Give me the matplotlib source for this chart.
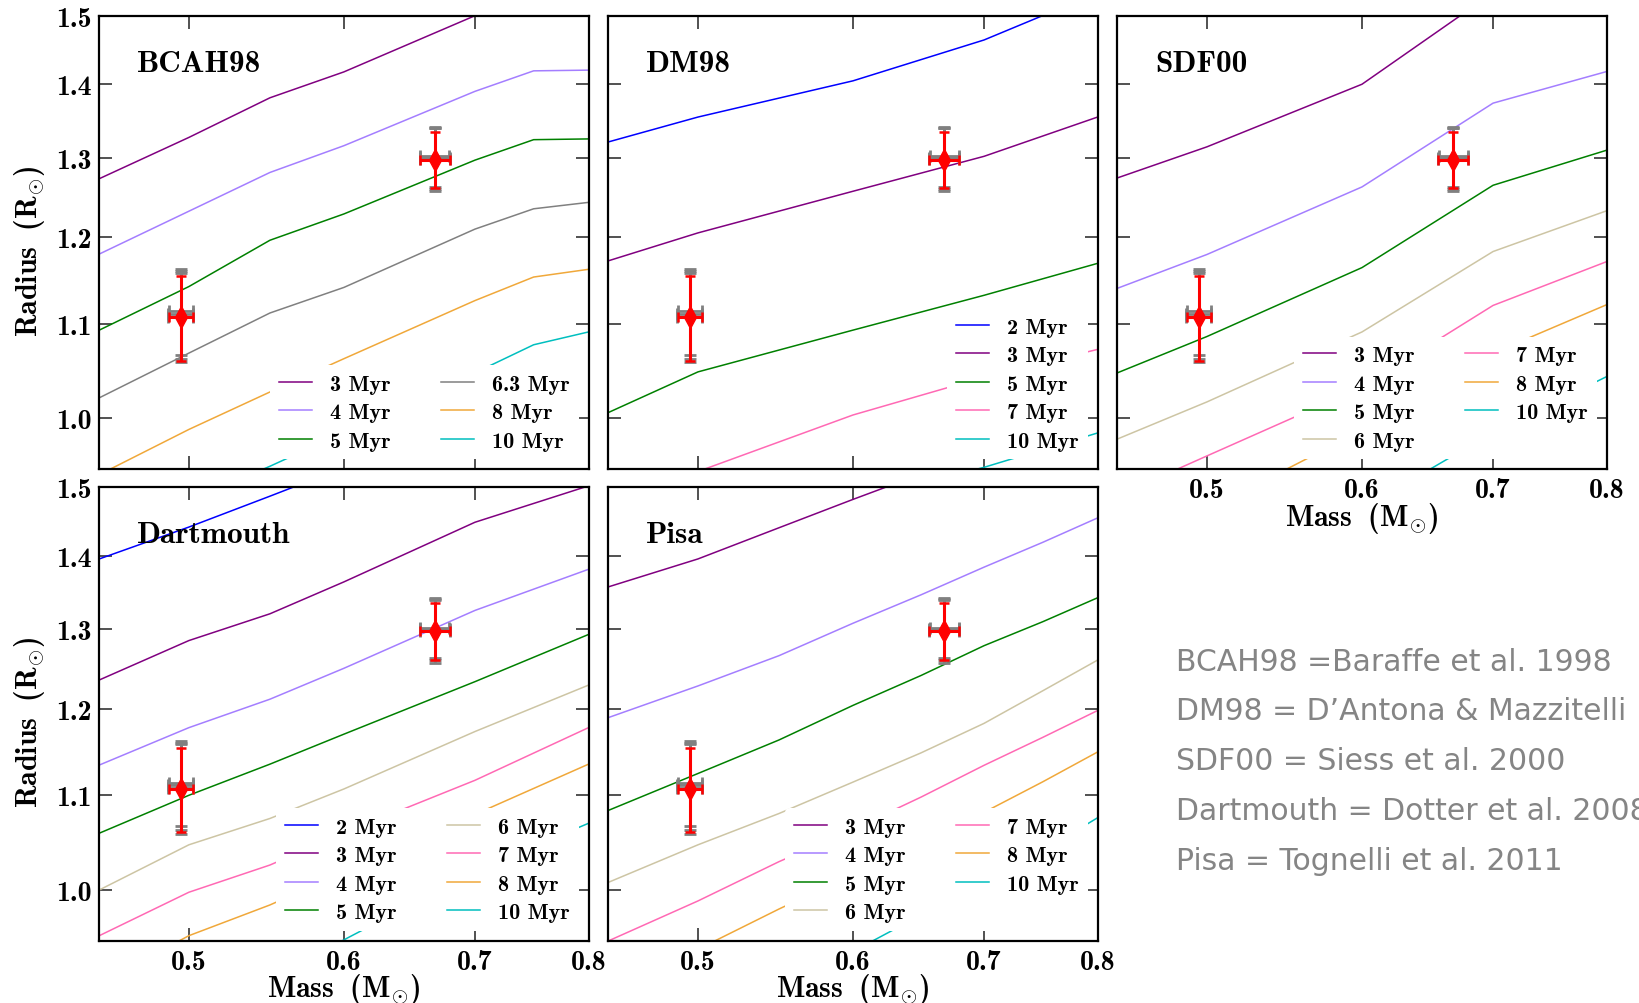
import matplotlib
matplotlib.use('Agg')
import matplotlib.pyplot as plt
from matplotlib.ticker import FixedLocator, FixedFormatter, NullLocator

plt.rcParams['font.family'] = ['cmb10', 'DejaVu Sans']
plt.rcParams['mathtext.fontset'] = 'custom'
plt.rcParams['mathtext.rm'] = 'cmb10'
plt.rcParams['mathtext.bf'] = 'cmb10'
plt.rcParams['mathtext.it'] = 'cmb10'
plt.rcParams['mathtext.default'] = 'rm'
plt.rcParams['axes.unicode_minus'] = False

# ---------------- data ----------------
x_ticks = [0.5, 0.6, 0.7, 0.8]
x_tick_labels = ['0.5', '0.6', '0.7', '0.8']
y_ticks = [1.0, 1.1, 1.2, 1.3, 1.4, 1.5]
y_tick_labels = ['1.0', '1.1', '1.2', '1.3', '1.4', '1.5']

bcah98_mass = [0.45, 0.5, 0.55, 0.6, 0.7, 0.75, 0.8]
bcah98_ages = ['3', '4', '5', '6.3', '8', '10']
bcah98_radius = [
    [1.273, 1.327, 1.381, 1.4175, 1.500, 1.545, 1.585],
    [1.180, 1.232, 1.281, 1.316, 1.390, 1.419, 1.420],
    [1.093, 1.142, 1.1965, 1.2286, 1.297, 1.324, 1.325],
    [1.021, 1.068, 1.112, 1.141, 1.210, 1.235, 1.243],
    [0.945, 0.989, 1.027, 1.062, 1.126, 1.153, 1.162],
    [0.890, 0.920, 0.953, 0.986, 1.047, 1.077, 1.091],
]

dm98_mass = [0.45, 0.5, 0.6, 0.7, 0.8]
dm98_ages = ['2', '3', '5', '7', '10']
dm98_radius = [
    [1.321, 1.3545, 1.4048, 1.4638, 1.535],
    [1.172, 1.2054, 1.257, 1.302, 1.3545],
    [1.006, 1.048, 1.093, 1.132, 1.169],
    [0.920, 0.948, 1.0035, 1.0425, 1.072],
    [0.860, 0.880, 0.920, 0.952, 0.9855],
]

sdf00_mass = [0.45, 0.5, 0.6, 0.7, 0.8]
sdf00_ages = ['3', '4', '5', '6', '7', '8', '10']
sdf00_radius = [
    [1.274, 1.3145, 1.400, 1.535, 1.600],
    [1.140, 1.1795, 1.2625, 1.3736, 1.418],
    [1.047, 1.086, 1.164, 1.2646, 1.310],
    [0.9795, 1.0168, 1.091, 1.183, 1.2325],
    [0.925, 0.963, 1.032, 1.1205, 1.171],
    [0.880, 0.912, 0.988, 1.068, 1.1213],
    [0.840, 0.870, 0.913, 0.986, 1.043],
]

dartmouth_mass = [0.45, 0.5, 0.55, 0.6, 0.7, 0.8]
dartmouth_ages = ['2', '3', '4', '5', '6', '7', '8', '10']
dartmouth_radius = [
    [1.3955, 1.441, 1.4865, 1.530, 1.610, 1.690],
    [1.2354, 1.2854, 1.3205, 1.3636, 1.448, 1.502],
    [1.134, 1.1775, 1.2117, 1.250, 1.325, 1.381],
    [1.0588, 1.100, 1.135, 1.1698, 1.2333, 1.2933],
    [1.000, 1.0465, 1.0746, 1.107, 1.1729, 1.229],
    [0.955, 0.9977, 1.0254, 1.059, 1.1167, 1.1775],
    [0.910, 0.955, 0.985, 1.018, 1.079, 1.135],
    [0.840, 0.880, 0.915, 0.951, 1.019, 1.0694],
]

pisa_mass = [0.45, 0.5, 0.55, 0.6, 0.65, 0.7, 0.75, 0.8]
pisa_ages = ['3', '4', '5', '6', '7', '8', '10']
pisa_radius = [
    [1.3568, 1.3955, 1.440, 1.4817, 1.520, 1.565, 1.610, 1.655],
    [1.1895, 1.228, 1.266, 1.308, 1.346, 1.384, 1.419, 1.4543],
    [1.0834, 1.1244, 1.163, 1.2042, 1.241, 1.2788, 1.310, 1.342],
    [1.0077, 1.0465, 1.080, 1.1147, 1.148, 1.1826, 1.222, 1.2604],
    [0.950, 0.989, 1.0289, 1.063, 1.098, 1.1337, 1.166, 1.198],
    [0.910, 0.942, 0.981, 1.016, 1.048, 1.0813, 1.115, 1.149],
    [0.860, 0.890, 0.920, 0.940, 0.975, 1.005, 1.040, 1.0754],
]

# stars (red = adopted, gray = alternative determinations)
star_mass = [0.4952, 0.6679]
star_mass_err = [0.0070, 0.0115]
star_radius = [1.107, 1.2977]
star_radius_err = [0.047, 0.037]
alt_radius = [[1.108, 1.111, 1.114], [1.298, 1.300, 1.302]]
alt_radius_err = [[0.050, 0.049, 0.048], [0.041, 0.040, 0.039]]
alt_mass_err = [[0.0074, 0.0072, 0.0070], [0.0120, 0.0117, 0.0114]]

notes = [
    'BCAH98 =Baraffe et al. 1998',
    "DM98 = D\u2019Antona & Mazzitelli 1998",
    'SDF00 = Siess et al. 2000',
    'Dartmouth = Dotter et al. 2008',
    'Pisa = Tognelli et al. 2011',
]

# ---------------- style ----------------
age_colors = {
    '2': '#0000ff', '3': '#800080', '4': '#a47eff', '5': '#008000',
    '6': '#cdc5a4', '6.3': '#808080', '7': '#ff69b4', '8': '#f0a83a',
    '10': '#00bfbf',
}

W, H = 1639, 1004
fig = plt.figure(figsize=(W / 100, H / 100), dpi=100)

col_left = [99.3, 608.4, 1117.4]
row_top = [16.7, 488.2]
ax_w, ax_h = 489.2, 453.7


def make_axes(col, row):
    return fig.add_axes([col_left[col] / W, 1 - (row_top[row] + ax_h) / H,
                         ax_w / W, ax_h / H])


panels = [
    ('BCAH98', bcah98_mass, bcah98_ages, bcah98_radius, 0, 0, 2, False, True),
    ('DM98', dm98_mass, dm98_ages, dm98_radius, 1, 0, 1, False, False),
    ('SDF00', sdf00_mass, sdf00_ages, sdf00_radius, 2, 0, 2, True, False),
    ('Dartmouth', dartmouth_mass, dartmouth_ages, dartmouth_radius, 0, 1, 2, True, True),
    ('Pisa', pisa_mass, pisa_ages, pisa_radius, 1, 1, 2, True, False),
]

for name, mass, ages, radii, col, row, ncol, xlab, ylab in panels:
    ax = make_axes(col, row)
    ax.set_xscale('log')
    ax.set_yscale('log')
    for age, rad in zip(ages, radii):
        ax.plot(mass, rad, color=age_colors[age], lw=1.1,
                label=age + ' Myr', zorder=2)
    # gray alternative error bars
    for i in range(len(star_mass)):
        for r, re, me in zip(alt_radius[i], alt_radius_err[i], alt_mass_err[i]):
            ax.errorbar([star_mass[i]], [r], xerr=[me], yerr=[re],
                        fmt='none', ecolor='#808080', elinewidth=2.0,
                        capsize=4.5, capthick=2.0, zorder=3)
    ax.errorbar(star_mass, star_radius, xerr=star_mass_err, yerr=star_radius_err,
                fmt='d', color='red', ecolor='red', markersize=11,
                elinewidth=2.2, capsize=3.6, capthick=1.8, zorder=4)

    ax.set_xlim(0.45, 0.8)
    ax.set_ylim(0.95, 1.5)
    ax.xaxis.set_major_locator(FixedLocator(x_ticks))
    ax.xaxis.set_minor_locator(NullLocator())
    ax.yaxis.set_major_locator(FixedLocator(y_ticks))
    ax.yaxis.set_minor_locator(NullLocator())
    ax.xaxis.set_major_formatter(FixedFormatter(x_tick_labels))
    ax.yaxis.set_major_formatter(FixedFormatter(y_tick_labels))
    ax.tick_params(which='both', direction='in', length=9.5, width=1.1,
                   top=True, right=True, labelsize=20, pad=5.5,
                   labelbottom=xlab, labelleft=ylab, color='#222222')
    for s in ax.spines.values():
        s.set_linewidth(1.6)

    ax.text(0.077, 0.879, name, transform=ax.transAxes, fontsize=22.5,
            ha='left', va='baseline')
    if xlab:
        ax.text(0.5, -0.105, r'Mass$\ \ ($M$_{\odot})$', transform=ax.transAxes,
                fontsize=21.5, ha='center', va='center')
    if ylab:
        ax.text(-0.143, 0.484, r'Radius$\ \ ($R$_{\odot})$', transform=ax.transAxes,
                fontsize=21.5, ha='center', va='center', rotation=90)

    leg = ax.legend(loc='lower right', ncol=ncol, fontsize=16, frameon=True,
                    handlelength=1.5, handletextpad=0.8, columnspacing=2.25,
                    borderpad=0.4, borderaxespad=0.45, labelspacing=0.4)
    leg.get_frame().set_facecolor('white')
    leg.get_frame().set_edgecolor('none')
    leg.get_frame().set_alpha(1.0)
    leg.set_zorder(5)

note_baselines = [670.7, 720.5, 770.5, 820.5, 870.5]
for txt, yb in zip(notes, note_baselines):
    fig.text(1176 / W, 1 - yb / H, txt, fontsize=21.5, color='#858585',
             family='DejaVu Sans', ha='left', va='baseline')

fig.savefig('out.png', dpi=100)
